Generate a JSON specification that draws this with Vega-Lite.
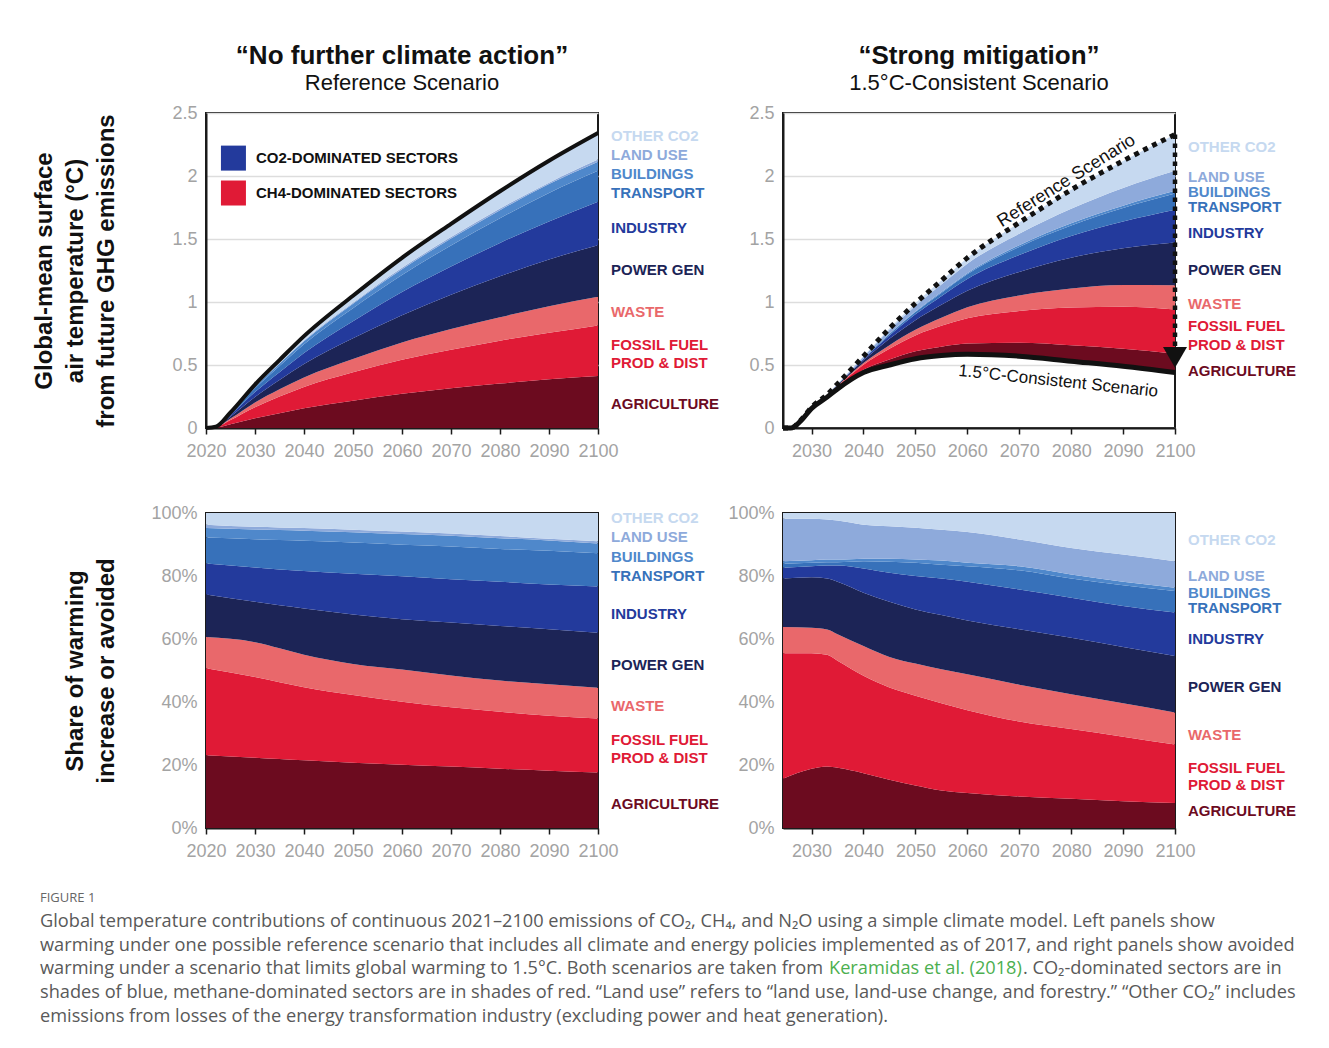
{
  "$schema": "https://vega.github.io/schema/vega-lite/v6.json",
  "background": "white",
  "padding": {"left": 31, "top": 42, "right": 5, "bottom": 5},
  "config": {
    "font": "Liberation Sans",
    "view": {"stroke": "#1a1a1a", "strokeWidth": 2},
    "axis": {"labelFont": "Liberation Sans", "labelFontSize": 18, "labelColor": "#a3a3a3", "domainColor": "#1a1a1a", "domainWidth": 2, "tickColor": "#1a1a1a", "grid": false, "labelFlush": false, "labelOverlap": false, "titleFont": "Liberation Sans", "titleFontSize": 24, "titleFontWeight": "bold", "titleColor": "#111111", "titleLineHeight": 31},
    "axisX": {"tickSize": 6, "tickWidth": 1.5, "labelPadding": 8},
    "axisY": {"ticks": false, "labelPadding": 9, "gridColor": "#dddddd", "gridWidth": 1.5},
    "title": {"font": "Liberation Sans", "fontSize": 26, "fontWeight": "bold", "color": "#111111", "subtitleFont": "Liberation Sans", "subtitleFontSize": 22, "subtitleColor": "#111111", "subtitlePadding": 4, "offset": 10, "frame": "group", "anchor": "middle"}
  },
  "datasets": {
    "sectors": [
      {"sector": "base", "rank": 0}, {"sector": "Agriculture", "rank": 1}, {"sector": "Fossil fuel", "rank": 2}, {"sector": "Waste", "rank": 3}, {"sector": "Power gen", "rank": 4}, {"sector": "Industry", "rank": 5}, {"sector": "Transport", "rank": 6}, {"sector": "Buildings", "rank": 7}, {"sector": "Land use", "rank": 8}, {"sector": "Other CO2", "rank": 9}
    ],
    "tl": [
      {"year": 2020, "Agriculture": 0, "Fossil fuel": 0, "Waste": 0, "Power gen": 0, "Industry": 0, "Transport": 0, "Buildings": 0, "Land use": 0, "Other CO2": 0},
      {"year": 2022, "Agriculture": 0.003, "Fossil fuel": 0.003, "Waste": 0.001, "Power gen": 0.001, "Industry": 0.001, "Transport": 0.001, "Buildings": 0, "Land use": 0, "Other CO2": 0},
      {"year": 2025, "Agriculture": 0.029, "Fossil fuel": 0.034, "Waste": 0.012, "Power gen": 0.017, "Industry": 0.012, "Transport": 0.010, "Buildings": 0.004, "Land use": 0.001, "Other CO2": 0.005},
      {"year": 2030, "Agriculture": 0.077, "Fossil fuel": 0.088, "Waste": 0.038, "Power gen": 0.044, "Industry": 0.038, "Transport": 0.031, "Buildings": 0.011, "Land use": 0.003, "Other CO2": 0.015},
      {"year": 2035, "Agriculture": 0.118, "Fossil fuel": 0.132, "Waste": 0.058, "Power gen": 0.073, "Industry": 0.062, "Transport": 0.050, "Buildings": 0.017, "Land use": 0.004, "Other CO2": 0.025},
      {"year": 2040, "Agriculture": 0.157, "Fossil fuel": 0.169, "Waste": 0.075, "Power gen": 0.107, "Industry": 0.087, "Transport": 0.070, "Buildings": 0.023, "Land use": 0.006, "Other CO2": 0.035},
      {"year": 2050, "Agriculture": 0.217, "Fossil fuel": 0.226, "Waste": 0.104, "Power gen": 0.165, "Industry": 0.135, "Transport": 0.104, "Buildings": 0.035, "Land use": 0.008, "Other CO2": 0.056},
      {"year": 2060, "Agriculture": 0.271, "Fossil fuel": 0.270, "Waste": 0.138, "Power gen": 0.216, "Industry": 0.184, "Transport": 0.135, "Buildings": 0.046, "Land use": 0.011, "Other CO2": 0.080},
      {"year": 2070, "Agriculture": 0.316, "Fossil fuel": 0.305, "Waste": 0.164, "Power gen": 0.272, "Industry": 0.224, "Transport": 0.168, "Buildings": 0.055, "Land use": 0.011, "Other CO2": 0.105},
      {"year": 2080, "Agriculture": 0.353, "Fossil fuel": 0.340, "Waste": 0.186, "Power gen": 0.325, "Industry": 0.265, "Transport": 0.196, "Buildings": 0.064, "Land use": 0.013, "Other CO2": 0.137},
      {"year": 2090, "Agriculture": 0.386, "Fossil fuel": 0.369, "Waste": 0.212, "Power gen": 0.371, "Industry": 0.301, "Transport": 0.227, "Buildings": 0.070, "Land use": 0.011, "Other CO2": 0.174},
      {"year": 2100, "Agriculture": 0.412, "Fossil fuel": 0.402, "Waste": 0.227, "Power gen": 0.410, "Industry": 0.344, "Transport": 0.246, "Buildings": 0.073, "Land use": 0.016, "Other CO2": 0.211}
    ],
    "tlTotal": [
      {"year": 2020, "value": 0}, {"year": 2022, "value": 0.01}, {"year": 2025, "value": 0.124}, {"year": 2030, "value": 0.345}, {"year": 2035, "value": 0.539}, {"year": 2040, "value": 0.729}, {"year": 2050, "value": 1.05}, {"year": 2060, "value": 1.351}, {"year": 2070, "value": 1.62}, {"year": 2080, "value": 1.879}, {"year": 2090, "value": 2.121}, {"year": 2100, "value": 2.341}
    ],
    "tr": [
      {"year": 2033, "base": 0.245, "Agriculture": 0.0039, "Fossil fuel": 0.0071, "Waste": 0.0016, "Power gen": 0.0032, "Industry": 0.0008, "Transport": 0.0002, "Buildings": 0.0002, "Land use": 0.0025, "Other CO2": 0.0005},
      {"year": 2035, "base": 0.31, "Agriculture": 0.0076, "Fossil fuel": 0.0136, "Waste": 0.0034, "Power gen": 0.0067, "Industry": 0.0020, "Transport": 0.0004, "Buildings": 0.0003, "Land use": 0.0050, "Other CO2": 0.0010},
      {"year": 2040, "base": 0.44, "Agriculture": 0.0226, "Fossil fuel": 0.0402, "Waste": 0.0124, "Power gen": 0.0220, "Industry": 0.0100, "Transport": 0.0030, "Buildings": 0.0010, "Land use": 0.0140, "Other CO2": 0.0048},
      {"year": 2045, "base": 0.50, "Agriculture": 0.0444, "Fossil fuel": 0.0850, "Waste": 0.0281, "Power gen": 0.0508, "Industry": 0.0267, "Transport": 0.0102, "Buildings": 0.0029, "Land use": 0.0299, "Other CO2": 0.0120},
      {"year": 2050, "base": 0.55, "Agriculture": 0.0594, "Fossil fuel": 0.1254, "Waste": 0.0449, "Power gen": 0.0757, "Industry": 0.0466, "Transport": 0.0185, "Buildings": 0.0044, "Land use": 0.0444, "Other CO2": 0.0207},
      {"year": 2055, "base": 0.575, "Agriculture": 0.0708, "Fossil fuel": 0.1648, "Waste": 0.0643, "Power gen": 0.1023, "Industry": 0.0690, "Transport": 0.0262, "Buildings": 0.0077, "Land use": 0.0583, "Other CO2": 0.0316},
      {"year": 2060, "base": 0.585, "Agriculture": 0.0849, "Fossil fuel": 0.2012, "Waste": 0.0872, "Power gen": 0.1308, "Industry": 0.0941, "Transport": 0.0375, "Buildings": 0.0084, "Land use": 0.0750, "Other CO2": 0.0459},
      {"year": 2070, "base": 0.57, "Agriculture": 0.1060, "Fossil fuel": 0.2523, "Waste": 0.1240, "Power gen": 0.1866, "Industry": 0.1336, "Transport": 0.0647, "Buildings": 0.0138, "Land use": 0.0901, "Other CO2": 0.0889},
      {"year": 2080, "base": 0.53, "Agriculture": 0.1265, "Fossil fuel": 0.3006, "Waste": 0.1510, "Power gen": 0.2434, "Industry": 0.1727, "Transport": 0.0830, "Buildings": 0.0177, "Land use": 0.1142, "Other CO2": 0.1509},
      {"year": 2090, "base": 0.49, "Agriculture": 0.1386, "Fossil fuel": 0.3342, "Waste": 0.1728, "Power gen": 0.2918, "Industry": 0.2119, "Transport": 0.1076, "Buildings": 0.0179, "Land use": 0.1402, "Other CO2": 0.2150},
      {"year": 2100, "base": 0.44, "Agriculture": 0.1493, "Fossil fuel": 0.3515, "Waste": 0.1928, "Power gen": 0.3383, "Industry": 0.2608, "Transport": 0.1285, "Buildings": 0.0208, "Land use": 0.1588, "Other CO2": 0.2892}
    ],
    "trRef": [
      {"year": 2024.5, "value": 0}, {"year": 2026, "value": 0}, {"year": 2028, "value": 0.065}, {"year": 2030, "value": 0.165}, {"year": 2033, "value": 0.265}, {"year": 2035, "value": 0.35}, {"year": 2040, "value": 0.57}, {"year": 2045, "value": 0.79}, {"year": 2050, "value": 0.99}, {"year": 2055, "value": 1.17}, {"year": 2060, "value": 1.35}, {"year": 2070, "value": 1.63}, {"year": 2080, "value": 1.89}, {"year": 2090, "value": 2.12}, {"year": 2100, "value": 2.33}
    ],
    "trCons": [
      {"year": 2024.5, "value": 0}, {"year": 2026, "value": 0}, {"year": 2028, "value": 0.06}, {"year": 2030, "value": 0.155}, {"year": 2033, "value": 0.245}, {"year": 2035, "value": 0.31}, {"year": 2040, "value": 0.44}, {"year": 2045, "value": 0.50}, {"year": 2050, "value": 0.55}, {"year": 2055, "value": 0.575}, {"year": 2060, "value": 0.585}, {"year": 2070, "value": 0.57}, {"year": 2080, "value": 0.53}, {"year": 2090, "value": 0.49}, {"year": 2100, "value": 0.44}
    ],
    "bl": [
      {"year": 2020, "Agriculture": 23.1, "Fossil fuel": 27.6, "Waste": 9.9, "Power gen": 13.5, "Industry": 9.9, "Transport": 8.2, "Buildings": 3.0, "Land use": 1.1, "Other CO2": 3.7},
      {"year": 2030, "Agriculture": 22.3, "Fossil fuel": 25.6, "Waste": 11.1, "Power gen": 12.8, "Industry": 10.9, "Transport": 9.0, "Buildings": 3.1, "Land use": 0.8, "Other CO2": 4.4},
      {"year": 2035, "Agriculture": 21.9, "Fossil fuel": 24.4, "Waste": 10.8, "Power gen": 13.6, "Industry": 11.4, "Transport": 9.3, "Buildings": 3.2, "Land use": 0.8, "Other CO2": 4.6},
      {"year": 2040, "Agriculture": 21.5, "Fossil fuel": 23.2, "Waste": 10.3, "Power gen": 14.7, "Industry": 11.9, "Transport": 9.6, "Buildings": 3.2, "Land use": 0.8, "Other CO2": 4.8},
      {"year": 2050, "Agriculture": 20.7, "Fossil fuel": 21.5, "Waste": 9.9, "Power gen": 15.7, "Industry": 12.9, "Transport": 9.9, "Buildings": 3.3, "Land use": 0.8, "Other CO2": 5.3},
      {"year": 2060, "Agriculture": 20.1, "Fossil fuel": 20.0, "Waste": 10.2, "Power gen": 16.0, "Industry": 13.6, "Transport": 10.0, "Buildings": 3.4, "Land use": 0.8, "Other CO2": 5.9},
      {"year": 2070, "Agriculture": 19.5, "Fossil fuel": 18.8, "Waste": 10.1, "Power gen": 16.8, "Industry": 13.8, "Transport": 10.4, "Buildings": 3.4, "Land use": 0.7, "Other CO2": 6.5},
      {"year": 2080, "Agriculture": 18.8, "Fossil fuel": 18.1, "Waste": 9.9, "Power gen": 17.3, "Industry": 14.1, "Transport": 10.4, "Buildings": 3.4, "Land use": 0.7, "Other CO2": 7.3},
      {"year": 2090, "Agriculture": 18.2, "Fossil fuel": 17.4, "Waste": 10.0, "Power gen": 17.5, "Industry": 14.2, "Transport": 10.7, "Buildings": 3.3, "Land use": 0.5, "Other CO2": 8.2},
      {"year": 2100, "Agriculture": 17.6, "Fossil fuel": 17.2, "Waste": 9.7, "Power gen": 17.5, "Industry": 14.7, "Transport": 10.5, "Buildings": 3.1, "Land use": 0.7, "Other CO2": 9.0}
    ],
    "br": [
      {"year": 2024.5, "Agriculture": 15.6, "Fossil fuel": 39.9, "Waste": 8.3, "Power gen": 15.4, "Industry": 3.4, "Transport": 1.3, "Buildings": 0.8, "Land use": 13.5, "Other CO2": 1.8},
      {"year": 2030, "Agriculture": 18.8, "Fossil fuel": 36.7, "Waste": 8.1, "Power gen": 16.0, "Industry": 3.5, "Transport": 1.1, "Buildings": 0.8, "Land use": 13.2, "Other CO2": 1.8},
      {"year": 2033, "Agriculture": 19.5, "Fossil fuel": 35.5, "Waste": 8.0, "Power gen": 16.2, "Industry": 4.1, "Transport": 1.1, "Buildings": 0.8, "Land use": 12.7, "Other CO2": 2.1},
      {"year": 2035, "Agriculture": 19.1, "Fossil fuel": 34.0, "Waste": 8.4, "Power gen": 16.7, "Industry": 5.1, "Transport": 1.1, "Buildings": 0.8, "Land use": 12.4, "Other CO2": 2.4},
      {"year": 2040, "Agriculture": 17.4, "Fossil fuel": 30.9, "Waste": 9.5, "Power gen": 16.9, "Industry": 7.7, "Transport": 2.3, "Buildings": 0.8, "Land use": 10.8, "Other CO2": 3.7},
      {"year": 2045, "Agriculture": 15.3, "Fossil fuel": 29.3, "Waste": 9.7, "Power gen": 17.5, "Industry": 9.2, "Transport": 3.5, "Buildings": 1.0, "Land use": 10.3, "Other CO2": 4.2},
      {"year": 2050, "Agriculture": 13.5, "Fossil fuel": 28.5, "Waste": 10.2, "Power gen": 17.2, "Industry": 10.6, "Transport": 4.2, "Buildings": 1.0, "Land use": 10.1, "Other CO2": 4.7},
      {"year": 2055, "Agriculture": 11.9, "Fossil fuel": 27.7, "Waste": 10.8, "Power gen": 17.2, "Industry": 11.6, "Transport": 4.4, "Buildings": 1.3, "Land use": 9.8, "Other CO2": 5.3},
      {"year": 2060, "Agriculture": 11.1, "Fossil fuel": 26.3, "Waste": 11.4, "Power gen": 17.1, "Industry": 12.3, "Transport": 4.9, "Buildings": 1.1, "Land use": 9.8, "Other CO2": 6.0},
      {"year": 2070, "Agriculture": 10.0, "Fossil fuel": 23.8, "Waste": 11.7, "Power gen": 17.6, "Industry": 12.6, "Transport": 6.1, "Buildings": 1.3, "Land use": 8.5, "Other CO2": 8.4},
      {"year": 2080, "Agriculture": 9.3, "Fossil fuel": 22.1, "Waste": 11.1, "Power gen": 17.9, "Industry": 12.7, "Transport": 6.1, "Buildings": 1.3, "Land use": 8.4, "Other CO2": 11.1},
      {"year": 2090, "Agriculture": 8.5, "Fossil fuel": 20.5, "Waste": 10.6, "Power gen": 17.9, "Industry": 13.0, "Transport": 6.6, "Buildings": 1.1, "Land use": 8.6, "Other CO2": 13.2},
      {"year": 2100, "Agriculture": 7.9, "Fossil fuel": 18.6, "Waste": 10.2, "Power gen": 17.9, "Industry": 13.8, "Transport": 6.8, "Buildings": 1.1, "Land use": 8.4, "Other CO2": 15.3}
    ],
    "labelsTL": [
      {"label": "OTHER CO2", "sector": "Other CO2", "value": 2.317}, {"label": "LAND USE", "sector": "Land use", "value": 2.166}, {"label": "BUILDINGS", "sector": "Buildings", "value": 2.015}, {"label": "TRANSPORT", "sector": "Transport", "value": 1.865}, {"label": "INDUSTRY", "sector": "Industry", "value": 1.588}, {"label": "POWER GEN", "sector": "Power gen", "value": 1.255}, {"label": "WASTE", "sector": "Waste", "value": 0.922}, {"label": "FOSSIL FUEL", "sector": "Fossil fuel", "value": 0.66}, {"label": "PROD & DIST", "sector": "Fossil fuel", "value": 0.518}, {"label": "AGRICULTURE", "sector": "Agriculture", "value": 0.193}
    ],
    "labelsTR": [
      {"label": "OTHER CO2", "sector": "Other CO2", "value": 2.229}, {"label": "LAND USE", "sector": "Land use", "value": 1.993}, {"label": "BUILDINGS", "sector": "Buildings", "value": 1.876}, {"label": "TRANSPORT", "sector": "Transport", "value": 1.754}, {"label": "INDUSTRY", "sector": "Industry", "value": 1.548}, {"label": "POWER GEN", "sector": "Power gen", "value": 1.254}, {"label": "WASTE", "sector": "Waste", "value": 0.985}, {"label": "FOSSIL FUEL", "sector": "Fossil fuel", "value": 0.806}, {"label": "PROD & DIST", "sector": "Fossil fuel", "value": 0.662}, {"label": "AGRICULTURE", "sector": "Agriculture", "value": 0.454}
    ],
    "labelsBL": [
      {"label": "OTHER CO2", "sector": "Other CO2", "value": 98.3}, {"label": "LAND USE", "sector": "Land use", "value": 92.3}, {"label": "BUILDINGS", "sector": "Buildings", "value": 86.1}, {"label": "TRANSPORT", "sector": "Transport", "value": 80.1}, {"label": "INDUSTRY", "sector": "Industry", "value": 67.9}, {"label": "POWER GEN", "sector": "Power gen", "value": 51.9}, {"label": "WASTE", "sector": "Waste", "value": 38.6}, {"label": "FOSSIL FUEL", "sector": "Fossil fuel", "value": 27.9}, {"label": "PROD & DIST", "sector": "Fossil fuel", "value": 22.2}, {"label": "AGRICULTURE", "sector": "Agriculture", "value": 7.5}
    ],
    "labelsBR": [
      {"label": "OTHER CO2", "sector": "Other CO2", "value": 91.5}, {"label": "LAND USE", "sector": "Land use", "value": 80.1}, {"label": "BUILDINGS", "sector": "Buildings", "value": 74.7}, {"label": "TRANSPORT", "sector": "Transport", "value": 69.8}, {"label": "INDUSTRY", "sector": "Industry", "value": 59.9}, {"label": "POWER GEN", "sector": "Power gen", "value": 44.9}, {"label": "WASTE", "sector": "Waste", "value": 29.6}, {"label": "FOSSIL FUEL", "sector": "Fossil fuel", "value": 19.2}, {"label": "PROD & DIST", "sector": "Fossil fuel", "value": 13.6}, {"label": "AGRICULTURE", "sector": "Agriculture", "value": 5.3}
    ],
    "legendTL": [
      {"label": "CO2-DOMINATED SECTORS", "sector": "Industry", "value": 2.142},
      {"label": "CH4-DOMINATED SECTORS", "sector": "Fossil fuel", "value": 1.865}
    ],
    "arrowTR": [
      {"year": 2100, "top": 2.33, "bottom": 0.62, "tip": 0.56}
    ],
    "caption": [
      {"line": 1, "text": "Global temperature contributions of continuous 2021–2100 emissions of CO₂, CH₄, and N₂O using a simple climate model. Left panels show"},
      {"line": 2, "text": "warming under one possible reference scenario that includes all climate and energy policies implemented as of 2017, and right panels show avoided"},
      {"line": 3, "text": "warming under a scenario that limits global warming to 1.5°C. Both scenarios are taken from"},
      {"line": 4, "text": "shades of blue, methane-dominated sectors are in shades of red. “Land use” refers to “land use, land-use change, and forestry.” “Other CO₂” includes"},
      {"line": 5, "text": "emissions from losses of the energy transformation industry (excluding power and heat generation)."}
    ]
  },
  "vconcat": [
    {
      "concat": [
        {
          "width": 392, "height": 315,
          "title": {"text": "“No further climate action”", "subtitle": "Reference Scenario"},
          "layer": [
            {
              "data": {"name": "tl"},
              "transform": [
                {"fold": ["Agriculture", "Fossil fuel", "Waste", "Power gen", "Industry", "Transport", "Buildings", "Land use", "Other CO2"], "as": ["sector", "value"]},
                {"lookup": "sector", "from": {"data": {"name": "sectors"}, "key": "sector", "fields": ["rank"]}}
              ],
              "mark": {"type": "area", "interpolate": "monotone"},
              "encoding": {
                "x": {"field": "year", "type": "quantitative", "scale": {"domain": [2020, 2100], "nice": false, "zero": false}, "axis": {"values": [2020, 2030, 2040, 2050, 2060, 2070, 2080, 2090, 2100], "format": "d", "title": null}},
                "y": {"field": "value", "type": "quantitative", "stack": "zero", "scale": {"domain": [0, 2.5], "nice": false}, "axis": {"values": [0, 0.5, 1, 1.5, 2, 2.5], "format": "~g", "grid": true, "title": ["Global-mean surface", "air temperature (°C)", "from future GHG emissions"], "titlePadding": 53}},
                "color": {"field": "sector", "type": "nominal", "legend": null, "scale": {"domain": ["base", "Agriculture", "Fossil fuel", "Waste", "Power gen", "Industry", "Transport", "Buildings", "Land use", "Other CO2"], "range": ["rgba(0,0,0,0)", "#6c0b1f", "#e01a36", "#e9686b", "#1c2456", "#233a9c", "#3771ba", "#4f88cb", "#8eaadb", "#c6d9f0"]}},
                "order": {"field": "rank", "type": "quantitative"}
              }
            },
            {
              "data": {"name": "tlTotal"},
              "mark": {"type": "line", "interpolate": "monotone", "color": "#111111", "strokeWidth": 4},
              "encoding": {"x": {"field": "year", "type": "quantitative"}, "y": {"field": "value", "type": "quantitative"}}
            },
            {
              "data": {"name": "legendTL"},
              "mark": {"type": "point", "shape": "square", "filled": true, "size": 625, "opacity": 1},
              "encoding": {"x": {"datum": 2025.6, "type": "quantitative"}, "y": {"field": "value", "type": "quantitative"}, "color": {"field": "sector", "type": "nominal", "legend": null}}
            },
            {
              "data": {"name": "legendTL"},
              "mark": {"type": "text", "align": "left", "baseline": "middle", "fontWeight": "bold", "fontSize": 15, "color": "#111111"},
              "encoding": {"x": {"datum": 2030.2, "type": "quantitative"}, "y": {"field": "value", "type": "quantitative"}, "text": {"field": "label"}}
            },
            {
              "data": {"name": "labelsTL"},
              "mark": {"type": "text", "align": "left", "baseline": "middle", "dx": 13, "fontWeight": "bold", "fontSize": 15},
              "encoding": {"x": {"datum": 2100, "type": "quantitative"}, "y": {"field": "value", "type": "quantitative"}, "text": {"field": "label"}, "color": {"field": "sector", "type": "nominal", "legend": null}}
            }
          ]
        },
        {
          "width": 392, "height": 315,
          "title": {"text": "“Strong mitigation”", "subtitle": "1.5°C-Consistent Scenario"},
          "layer": [
            {
              "data": {"name": "tr"},
              "transform": [
                {"fold": ["base", "Agriculture", "Fossil fuel", "Waste", "Power gen", "Industry", "Transport", "Buildings", "Land use", "Other CO2"], "as": ["sector", "value"]},
                {"lookup": "sector", "from": {"data": {"name": "sectors"}, "key": "sector", "fields": ["rank"]}}
              ],
              "mark": {"type": "area", "interpolate": "monotone"},
              "encoding": {
                "x": {"field": "year", "type": "quantitative", "scale": {"domain": [2024.5, 2100], "nice": false, "zero": false}, "axis": {"values": [2030, 2040, 2050, 2060, 2070, 2080, 2090, 2100], "format": "d", "title": null}},
                "y": {"field": "value", "type": "quantitative", "stack": "zero", "scale": {"domain": [0, 2.5], "nice": false}, "axis": {"values": [0, 0.5, 1, 1.5, 2, 2.5], "format": "~g", "grid": true, "title": null}},
                "color": {"field": "sector", "type": "nominal", "legend": null, "scale": {"domain": ["base", "Agriculture", "Fossil fuel", "Waste", "Power gen", "Industry", "Transport", "Buildings", "Land use", "Other CO2"], "range": ["rgba(0,0,0,0)", "#6c0b1f", "#e01a36", "#e9686b", "#1c2456", "#233a9c", "#3771ba", "#4f88cb", "#8eaadb", "#c6d9f0"]}},
                "order": {"field": "rank", "type": "quantitative"}
              }
            },
            {
              "data": {"name": "trRef"},
              "mark": {"type": "line", "interpolate": "monotone", "color": "#111111", "strokeWidth": 5, "strokeDash": [5, 5]},
              "encoding": {"x": {"field": "year", "type": "quantitative"}, "y": {"field": "value", "type": "quantitative"}}
            },
            {
              "data": {"name": "trCons"},
              "mark": {"type": "line", "interpolate": "monotone", "color": "#111111", "strokeWidth": 5},
              "encoding": {"x": {"field": "year", "type": "quantitative"}, "y": {"field": "value", "type": "quantitative"}}
            },
            {
              "data": {"name": "arrowTR"},
              "mark": {"type": "rule", "color": "#111111", "strokeWidth": 4.5, "strokeDash": [4.5, 4.5]},
              "encoding": {"x": {"field": "year", "type": "quantitative"}, "y": {"field": "top", "type": "quantitative"}, "y2": {"field": "bottom"}}
            },
            {
              "data": {"name": "arrowTR"},
              "mark": {"type": "point", "shape": "triangle-down", "filled": true, "size": 576, "opacity": 1, "color": "#111111"},
              "encoding": {"x": {"field": "year", "type": "quantitative"}, "y": {"field": "tip", "type": "quantitative"}}
            },
            {
              "data": {"values": [{"text": "Reference Scenario", "year": 2079.1, "value": 1.96}]},
              "mark": {"type": "text", "angle": -32, "fontSize": 18, "color": "#111111", "align": "center", "baseline": "middle"},
              "encoding": {"x": {"field": "year", "type": "quantitative"}, "y": {"field": "value", "type": "quantitative"}, "text": {"field": "text"}}
            },
            {
              "data": {"values": [{"text": "1.5°C-Consistent Scenario", "year": 2077.5, "value": 0.37}]},
              "mark": {"type": "text", "angle": 6, "fontSize": 17, "color": "#111111", "align": "center", "baseline": "middle"},
              "encoding": {"x": {"field": "year", "type": "quantitative"}, "y": {"field": "value", "type": "quantitative"}, "text": {"field": "text"}}
            },
            {
              "data": {"name": "labelsTR"},
              "mark": {"type": "text", "align": "left", "baseline": "middle", "dx": 13, "fontWeight": "bold", "fontSize": 15},
              "encoding": {"x": {"datum": 2100, "type": "quantitative"}, "y": {"field": "value", "type": "quantitative"}, "text": {"field": "label"}, "color": {"field": "sector", "type": "nominal", "legend": null}}
            }
          ]
        },
        {
          "width": 392, "height": 315,
          "layer": [
            {
              "data": {"name": "bl"},
              "transform": [
                {"fold": ["Agriculture", "Fossil fuel", "Waste", "Power gen", "Industry", "Transport", "Buildings", "Land use", "Other CO2"], "as": ["sector", "value"]},
                {"lookup": "sector", "from": {"data": {"name": "sectors"}, "key": "sector", "fields": ["rank"]}}
              ],
              "mark": {"type": "area", "interpolate": "monotone"},
              "encoding": {
                "x": {"field": "year", "type": "quantitative", "scale": {"domain": [2020, 2100], "nice": false, "zero": false}, "axis": {"values": [2020, 2030, 2040, 2050, 2060, 2070, 2080, 2090, 2100], "format": "d", "title": null}},
                "y": {"field": "value", "type": "quantitative", "stack": "zero", "scale": {"domain": [0, 100], "nice": false}, "axis": {"values": [0, 10, 20, 30, 40, 50, 60, 70, 80, 90, 100], "labelExpr": "datum.value + '%'", "title": ["Share of warming", "increase or avoided"], "titlePadding": 32}},
                "color": {"field": "sector", "type": "nominal", "legend": null, "scale": {"domain": ["base", "Agriculture", "Fossil fuel", "Waste", "Power gen", "Industry", "Transport", "Buildings", "Land use", "Other CO2"], "range": ["rgba(0,0,0,0)", "#6c0b1f", "#e01a36", "#e9686b", "#1c2456", "#233a9c", "#3771ba", "#4f88cb", "#8eaadb", "#c6d9f0"]}},
                "order": {"field": "rank", "type": "quantitative"}
              }
            },
            {
              "data": {"name": "labelsBL"},
              "mark": {"type": "text", "align": "left", "baseline": "middle", "dx": 13, "fontWeight": "bold", "fontSize": 15},
              "encoding": {"x": {"datum": 2100, "type": "quantitative"}, "y": {"field": "value", "type": "quantitative"}, "text": {"field": "label"}, "color": {"field": "sector", "type": "nominal", "legend": null}}
            }
          ]
        },
        {
          "width": 392, "height": 315,
          "layer": [
            {
              "data": {"name": "br"},
              "transform": [
                {"fold": ["Agriculture", "Fossil fuel", "Waste", "Power gen", "Industry", "Transport", "Buildings", "Land use", "Other CO2"], "as": ["sector", "value"]},
                {"lookup": "sector", "from": {"data": {"name": "sectors"}, "key": "sector", "fields": ["rank"]}}
              ],
              "mark": {"type": "area", "interpolate": "monotone"},
              "encoding": {
                "x": {"field": "year", "type": "quantitative", "scale": {"domain": [2024.5, 2100], "nice": false, "zero": false}, "axis": {"values": [2030, 2040, 2050, 2060, 2070, 2080, 2090, 2100], "format": "d", "title": null}},
                "y": {"field": "value", "type": "quantitative", "stack": "zero", "scale": {"domain": [0, 100], "nice": false}, "axis": {"values": [0, 10, 20, 30, 40, 50, 60, 70, 80, 90, 100], "labelExpr": "datum.value + '%'", "title": null}},
                "color": {"field": "sector", "type": "nominal", "legend": null, "scale": {"domain": ["base", "Agriculture", "Fossil fuel", "Waste", "Power gen", "Industry", "Transport", "Buildings", "Land use", "Other CO2"], "range": ["rgba(0,0,0,0)", "#6c0b1f", "#e01a36", "#e9686b", "#1c2456", "#233a9c", "#3771ba", "#4f88cb", "#8eaadb", "#c6d9f0"]}},
                "order": {"field": "rank", "type": "quantitative"}
              }
            },
            {
              "data": {"name": "labelsBR"},
              "mark": {"type": "text", "align": "left", "baseline": "middle", "dx": 13, "fontWeight": "bold", "fontSize": 15},
              "encoding": {"x": {"datum": 2100, "type": "quantitative"}, "y": {"field": "value", "type": "quantitative"}, "text": {"field": "label"}, "color": {"field": "sector", "type": "nominal", "legend": null}}
            }
          ]
        }
      ],
      "columns": 2,
      "spacing": {"row": 85, "column": 185},
      "bounds": "flush",
      "align": "all"
    },
    {
      "width": 1250, "height": 119,
      "view": {"stroke": null},
      "layer": [
        {
          "data": {"values": [{"line": 0, "text": "FIGURE 1"}]},
          "mark": {"type": "text", "align": "left", "baseline": "middle", "font": "Open Sans", "fontSize": 13, "color": "#666666", "dx": -166},
          "encoding": {"x": {"datum": 0, "type": "quantitative", "scale": {"domain": [0, 1]}, "axis": null}, "y": {"field": "line", "type": "quantitative", "scale": {"domain": [0, 5], "reverse": true}, "axis": null}, "text": {"field": "text"}}
        },
        {
          "data": {"name": "caption"},
          "mark": {"type": "text", "align": "left", "baseline": "middle", "font": "Open Sans", "fontSize": 18.2, "color": "#595959", "dx": -166},
          "encoding": {"x": {"datum": 0, "type": "quantitative"}, "y": {"field": "line", "type": "quantitative"}, "text": {"field": "text"}}
        },
        {
          "data": {"values": [{"line": 3, "text": "Keramidas et al. (2018)"}]},
          "mark": {"type": "text", "align": "left", "baseline": "middle", "font": "Open Sans", "fontSize": 18.2, "color": "#4caf50", "dx": 623},
          "encoding": {"x": {"datum": 0, "type": "quantitative"}, "y": {"field": "line", "type": "quantitative"}, "text": {"field": "text"}}
        },
        {
          "data": {"values": [{"line": 3, "text": ". CO₂-dominated sectors are in"}]},
          "mark": {"type": "text", "align": "left", "baseline": "middle", "font": "Open Sans", "fontSize": 18.2, "color": "#595959", "dx": 817},
          "encoding": {"x": {"datum": 0, "type": "quantitative"}, "y": {"field": "line", "type": "quantitative"}, "text": {"field": "text"}}
        }
      ]
    }
  ],
  "spacing": 31,
  "bounds": "full"
}
